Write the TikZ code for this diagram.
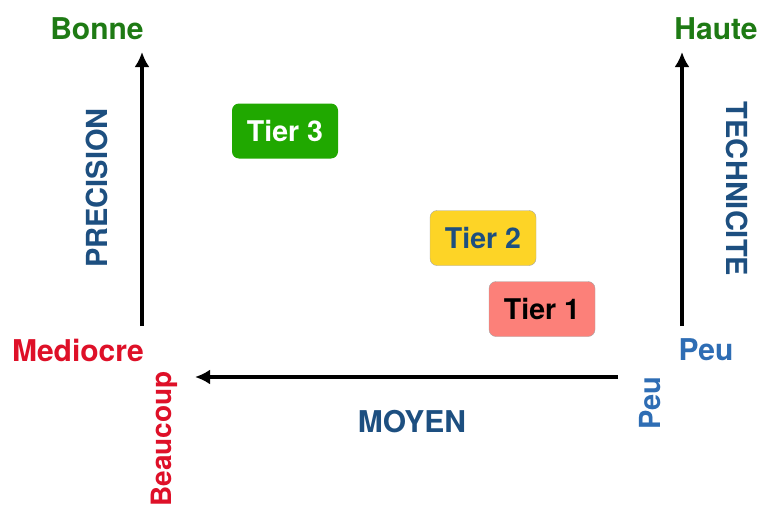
\documentclass[tikz,border=0pt]{standalone}
\usepackage{fontspec}
\setmainfont{TeX Gyre Heros}
\usepackage{tikz}
\usetikzlibrary{arrows.meta,positioning}

\definecolor{goodgreen}{RGB}{30,122,20}
\definecolor{badred}{RGB}{222,16,40}
\definecolor{axisblue}{RGB}{29,79,128}
\definecolor{lowblue}{RGB}{46,109,180}
\definecolor{tiergreen}{RGB}{32,168,0}
\definecolor{tieryellow}{RGB}{253,212,38}
\definecolor{tierred}{RGB}{252,128,121}

\begin{document}
\begin{tikzpicture}[x=1pt, y=-1pt,
  >={Latex[length=15pt,width=15pt]},
  axis/.style={line width=4pt, ->},
  lbl/.style={inner sep=0pt, font=\fontsize{30}{34}\selectfont\bfseries},
  vlbl/.style={inner sep=0pt, font=\fontsize{29}{34}\selectfont\bfseries},
  tier/.style={rounded corners=7pt, minimum width=106pt, minimum height=55pt,
    inner sep=0pt, font=\fontsize{28.5}{32}\selectfont\bfseries}]

  \useasboundingbox (0,0) rectangle (758,506);

  % Precision axis
  \coordinate (precLow) at (142,326);
  \coordinate (precHigh) at (142,52);
  \draw[axis] (precLow) -- (precHigh);
  \node[lbl, text=goodgreen] (bonne) at (97,29) {Bonne};
  \node[lbl, text=badred] (mediocre) at (78,350) {Mediocre};
  \node[vlbl, text=axisblue, rotate=90] (precision) at (97,188) {PRECISION};

  % Technicite axis
  \coordinate (techLow) at (682,326);
  \coordinate (techHigh) at (682,52);
  \draw[axis] (techLow) -- (techHigh);
  \node[lbl, text=goodgreen] (haute) at (716,29) {Haute};
  \node[lbl, text=lowblue] (peuTech) at (706,350) {Peu};
  \node[vlbl, text=axisblue, rotate=-90] (technicite) at (737,189) {TECHNICITE};

  % Moyen axis
  \coordinate (moyLow) at (618,377);
  \coordinate (moyHigh) at (195,377);
  \draw[axis] (moyLow) -- (moyHigh);
  \node[lbl, text=axisblue] (moyen) at (412,422) {MOYEN};
  \node[inner sep=0pt, font=\fontsize{28}{32}\selectfont\bfseries, text=badred, rotate=90] (beaucoup) at (164,439) {Beaucoup};
  \node[vlbl, text=lowblue, rotate=90] (peuMoy) at (650,403) {Peu};

  % Tiers
  \node[tier, fill=tiergreen, text=white] (tier3) at (285,131) {Tier 3};
  \node[tier, fill=tieryellow, draw=black!35, text=axisblue] (tier2) at (483,238) {Tier 2};
  \node[tier, fill=tierred, draw=black!35, text=black] (tier1) at (542,309) {Tier 1};

\end{tikzpicture}
\end{document}
